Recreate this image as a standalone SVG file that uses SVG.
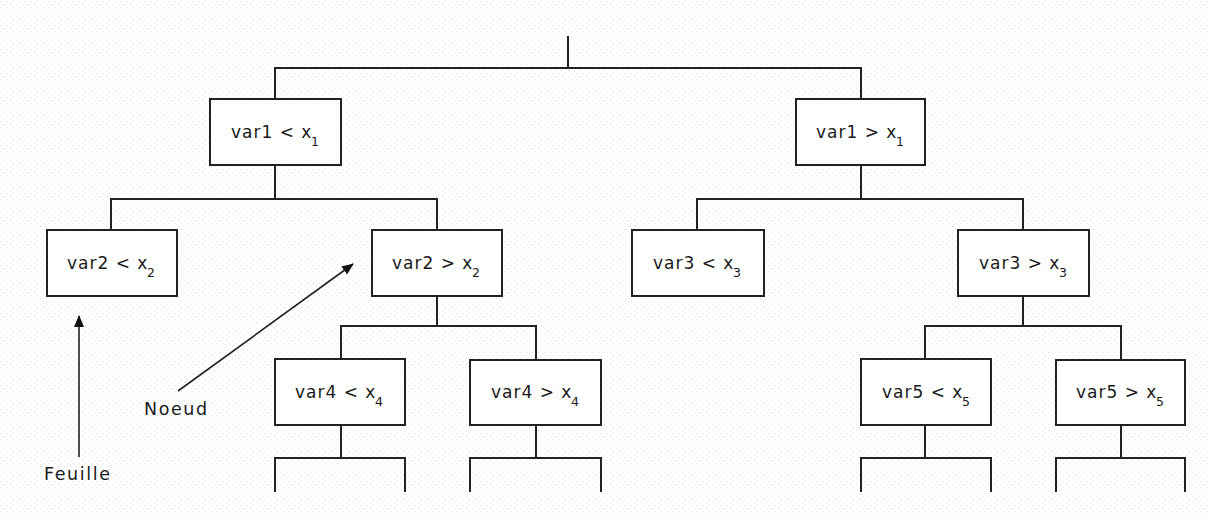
<svg xmlns="http://www.w3.org/2000/svg" width="1209" height="520" viewBox="0 0 1209 520">
  <style>
    .box { fill: #ffffff; stroke: #222222; stroke-width: 2; }
    .wire { fill: none; stroke: #222222; stroke-width: 2; stroke-linecap: square; }
    .ptr { fill: none; stroke: #222222; stroke-width: 1.6; }
    .lbl { font-family: "DejaVu Sans", Verdana, sans-serif; font-size: 17px; fill: #1a1a1a; letter-spacing: 1px; }
    .note { font-size: 17.5px; letter-spacing: 1.6px; }
    .sub { font-size: 12.5px; letter-spacing: 0; }
  </style>
  <defs>
    <pattern id="dots" width="6" height="6" patternUnits="userSpaceOnUse">
      <circle cx="1.5" cy="1.5" r="0.6" fill="#dedede"/>
      <circle cx="4.5" cy="4.5" r="0.6" fill="#dedede"/>
    </pattern>
    <marker id="head" viewBox="0 0 12 10" refX="11" refY="5" markerWidth="12" markerHeight="10" markerUnits="userSpaceOnUse" orient="auto">
      <path d="M0,0 L12,5 L0,10 Z" fill="#111111"/>
    </marker>
  </defs>

  <rect width="1209" height="520" fill="#ffffff"/>
  <rect width="1209" height="520" fill="url(#dots)"/>

  <!-- tree branches -->
  <g id="connectors">
    <path class="wire" d="M568,37 V68 M275,68 H861 M275,68 V99 M861,68 V99"/>
    <path class="wire" d="M275,165 V199 M111,199 H437 M111,199 V230 M437,199 V230"/>
    <path class="wire" d="M861,165 V199 M697,199 H1023 M697,199 V230 M1023,199 V230"/>
    <path class="wire" d="M437,296 V326 M341,326 H536 M341,326 V359 M536,326 V360"/>
    <path class="wire" d="M1023,296 V326 M925,326 H1121 M925,326 V359 M1121,326 V360"/>
    <path class="wire" d="M341,425 V458 M275,458 H405 M275,458 V491 M405,458 V491"/>
    <path class="wire" d="M536,425 V458 M470,458 H601 M470,458 V491 M601,458 V491"/>
    <path class="wire" d="M925,425 V458 M861,458 H991 M861,458 V491 M991,458 V491"/>
    <path class="wire" d="M1121,425 V458 M1056,458 H1185 M1056,458 V491 M1185,458 V491"/>
    <!-- annotation pointers -->
    <line class="ptr" x1="79" y1="457" x2="79" y2="316" marker-end="url(#head)"/>
    <line class="ptr" x1="178" y1="391" x2="353" y2="264" marker-end="url(#head)"/>
  </g>

  <g id="n-var1-lt">
    <rect class="box" x="210" y="99" width="131" height="66"/>
    <text class="lbl"><tspan x="231" y="138">var1 &lt; x</tspan><tspan class="sub" x="311" y="146">1</tspan></text>
  </g>
  <g id="n-var1-gt">
    <rect class="box" x="796" y="99" width="129" height="66"/>
    <text class="lbl"><tspan x="816" y="138">var1 &gt; x</tspan><tspan class="sub" x="896" y="146">1</tspan></text>
  </g>
  <g id="n-var2-lt">
    <rect class="box" x="47" y="230" width="130" height="66"/>
    <text class="lbl"><tspan x="67" y="269">var2 &lt; x</tspan><tspan class="sub" x="147" y="277">2</tspan></text>
  </g>
  <g id="n-var2-gt">
    <rect class="box" x="372" y="230" width="130" height="66"/>
    <text class="lbl"><tspan x="392" y="269">var2 &gt; x</tspan><tspan class="sub" x="472" y="277">2</tspan></text>
  </g>
  <g id="n-var3-lt">
    <rect class="box" x="632" y="230" width="132" height="66"/>
    <text class="lbl"><tspan x="653" y="269">var3 &lt; x</tspan><tspan class="sub" x="733" y="277">3</tspan></text>
  </g>
  <g id="n-var3-gt">
    <rect class="box" x="958" y="230" width="131" height="66"/>
    <text class="lbl"><tspan x="979" y="269">var3 &gt; x</tspan><tspan class="sub" x="1059" y="277">3</tspan></text>
  </g>
  <g id="n-var4-lt">
    <rect class="box" x="275" y="359" width="130" height="66"/>
    <text class="lbl"><tspan x="295" y="398">var4 &lt; x</tspan><tspan class="sub" x="375" y="406">4</tspan></text>
  </g>
  <g id="n-var4-gt">
    <rect class="box" x="470" y="360" width="131" height="65"/>
    <text class="lbl"><tspan x="491" y="398">var4 &gt; x</tspan><tspan class="sub" x="571" y="406">4</tspan></text>
  </g>
  <g id="n-var5-lt">
    <rect class="box" x="861" y="359" width="130" height="66"/>
    <text class="lbl"><tspan x="882" y="398">var5 &lt; x</tspan><tspan class="sub" x="962" y="406">5</tspan></text>
  </g>
  <g id="n-var5-gt">
    <rect class="box" x="1056" y="360" width="129" height="65"/>
    <text class="lbl"><tspan x="1076" y="398">var5 &gt; x</tspan><tspan class="sub" x="1156" y="406">5</tspan></text>
  </g>

  <g id="annotations">
    <text class="lbl note" x="144" y="415">Noeud</text>
    <text class="lbl note" x="44" y="480">Feuille</text>
  </g>
</svg>
